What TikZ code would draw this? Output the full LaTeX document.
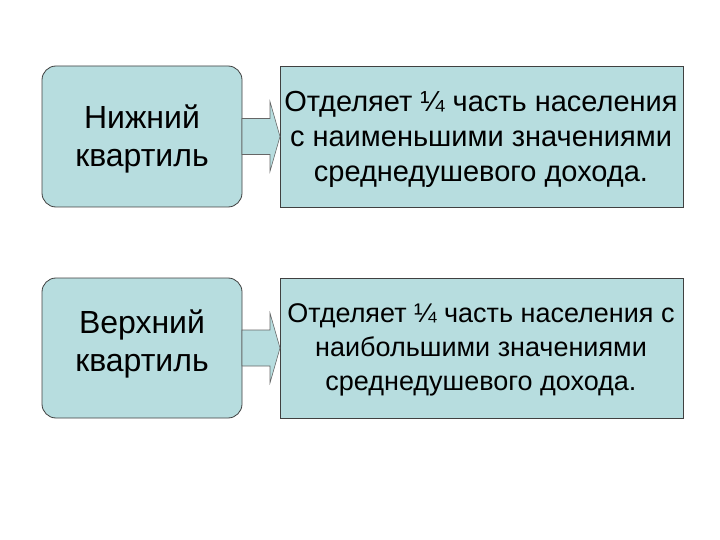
\documentclass[tikz,border=0pt]{standalone}
\usepackage{fontspec}
\setmainfont{Liberation Sans}
\begin{document}
\begin{tikzpicture}[x=1pt,y=-1pt,
  lbox/.style={draw=black!75,fill=boxc,rounded corners=14pt,line width=0.8pt},
  rbox/.style={draw=black!75,fill=boxc,line width=0.8pt},
  arr/.style={draw=black!60,fill=boxc,line width=0.6pt}]
\definecolor{boxc}{RGB}{183,221,223}
\useasboundingbox (0,0) rectangle (720,540);
\foreach \t/\b/\n in {66/207/a,278/418/b}{
  \draw[lbox] (42,\t) rectangle (242,\b);
  \draw[rbox] (280,\t) rectangle (683,\b);
  \pgfmathsetmacro{\m}{(\t+\b)/2}
  \draw[arr] (242,\m-18) -- (270,\m-18) -- (270,\m-35) -- (280,\m) -- (270,\m+35) -- (270,\m+18) -- (242,\m+18) -- cycle;
}
\node[align=center,font=\fontsize{32}{38}\selectfont] (l1) at (142,139) {Нижний\\квартиль};
\node[align=center,font=\fontsize{29}{35}\selectfont] (r1) at (481,139) {Отделяет ¼ часть населения\\с наименьшими значениями\\среднедушевого дохода.};
\node[align=center,font=\fontsize{32}{38}\selectfont] (l2) at (142,344) {Верхний\\квартиль};
\node[align=center,font=\fontsize{27}{34}\selectfont] (r2) at (481,350) {Отделяет ¼ часть населения с\\наибольшими значениями\\среднедушевого дохода.};
\end{tikzpicture}
\end{document}
